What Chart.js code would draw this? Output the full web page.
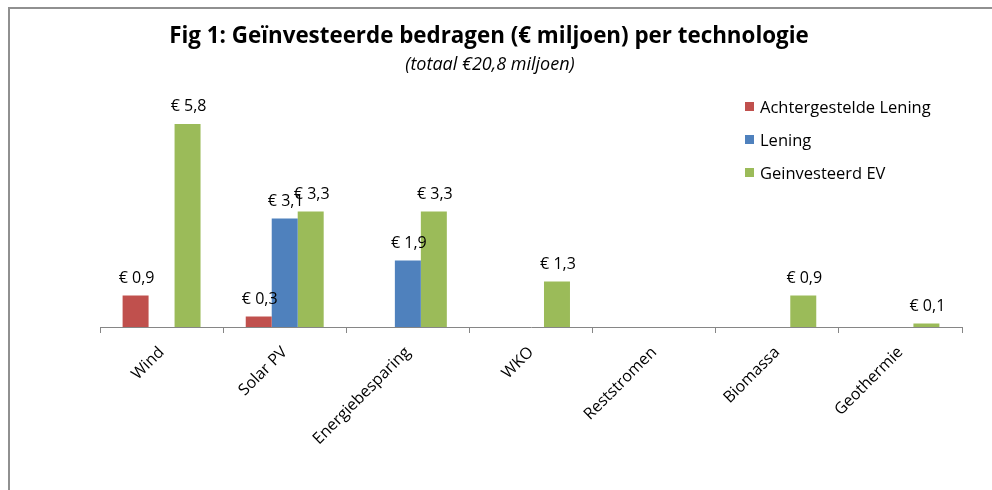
<!DOCTYPE html>
<html>
<head>
<meta charset="utf-8">
<script src="https://cdn.jsdelivr.net/npm/chart.js@4/dist/chart.umd.min.js"></script>
<style>
  html, body { margin: 0; padding: 0; background: #fff; overflow: hidden; }
  #frame { position: absolute; left: 8px; top: 7px; width: 1100px; height: 600px;
           border-left: 2px solid #909090; border-top: 2px solid #909090; }
  #wrap { position: absolute; left: 0; top: 0; width: 992px; height: 490px; }
</style>
</head>
<body>
<div id="frame"></div>
<div id="wrap"><canvas id="c" width="992" height="490"></canvas></div>
<script>
const categories = ['Wind', 'Solar PV', 'Energiebesparing', 'WKO', 'Reststromen', 'Biomassa', 'Geothermie'];
const seriesNames = ['Achtergestelde Lening', 'Lening', 'Geinvesteerd EV'];
const achtergesteldeLening = [0.9, 0.3, null, null, null, null, null];
const lening = [null, 3.1, 1.9, null, null, null, null];
const geinvesteerdEV = [5.8, 3.3, 3.3, 1.3, null, 0.9, 0.1];
const titleText = 'Fig 1: Geïnvesteerde bedragen (€ miljoen) per technologie';
const subtitleText = '(totaal €20,8 miljoen)';

const colors = ['#C0504D', '#4F81BD', '#9BBB59'];
const FONT = '"Open Sans", Lato, sans-serif';

function fitSize(ctx, text, style, targetWidth) {
  ctx.font = style + ' 20px ' + FONT;
  const w = ctx.measureText(text).width;
  return 20 * targetWidth / w;
}

const titlePlugin = {
  id: 'titles',
  afterDraw(chart) {
    const ctx = chart.ctx;
    ctx.save();
    ctx.fillStyle = '#000';
    ctx.textAlign = 'center';
    ctx.textBaseline = 'alphabetic';
    const ts = fitSize(ctx, titleText, 'bold', 640);
    ctx.font = 'bold ' + ts + 'px ' + FONT;
    ctx.fillText(titleText, 489, 43);
    ctx.font = 'italic 18px ' + FONT;
    ctx.fillText(subtitleText, 490, 70);
    ctx.restore();
  }
};

const legendPlugin = {
  id: 'customLegend',
  afterDraw(chart) {
    const ctx = chart.ctx;
    ctx.save();
    ctx.font = '16.5px ' + FONT;
    ctx.textBaseline = 'alphabetic';
    ctx.textAlign = 'left';
    chart.data.datasets.forEach((ds, i) => {
      const y = 106.5 + i * 33;
      ctx.fillStyle = ds.backgroundColor;
      ctx.fillRect(745, y - 4.5, 9, 9);
      ctx.fillStyle = '#000';
      ctx.fillText(ds.label, 760, y + 6);
    });
    ctx.restore();
  }
};

const dataLabelPlugin = {
  id: 'dataLabels',
  afterDatasetsDraw(chart) {
    const ctx = chart.ctx;
    ctx.save();
    ctx.font = '16px ' + FONT;
    ctx.fillStyle = '#000';
    ctx.textAlign = 'center';
    ctx.textBaseline = 'alphabetic';
    chart.data.datasets.forEach((ds, di) => {
      const meta = chart.getDatasetMeta(di);
      meta.data.forEach((el, idx) => {
        const v = ds.data[idx];
        if (v === null || v === undefined) return;
        ctx.fillText('€ ' + v.toFixed(1).replace('.', ','), el.x + 1, el.y - 13);
      });
    });
    ctx.restore();
  }
};

new Chart(document.getElementById('c'), {
  type: 'bar',
  data: {
    labels: categories,
    datasets: [
      { label: seriesNames[0], data: achtergesteldeLening, backgroundColor: colors[0] },
      { label: seriesNames[1], data: lening, backgroundColor: colors[1] },
      { label: seriesNames[2], data: geinvesteerdEV, backgroundColor: colors[2] }
    ]
  },
  options: {
    responsive: false,
    animation: false,
    devicePixelRatio: 1,
    layout: { padding: { left: 100, right: 30, top: 82, bottom: 0 } },
    datasets: { bar: { categoryPercentage: 0.633, barPercentage: 1.0, borderWidth: 0 } },
    plugins: { legend: { display: false }, title: { display: false }, tooltip: { enabled: false } },
    scales: {
      y: { display: false, min: 0, max: 7 },
      x: {
        offset: true,
        afterFit(scale) { scale.height = 163; },
        border: { display: true, color: '#868686', width: 1 },
        grid: { display: true, drawOnChartArea: false, drawTicks: true, tickLength: 6, color: '#868686', offset: true },
        ticks: { color: '#000', font: { family: FONT, size: 16 }, minRotation: 45, maxRotation: 45, padding: 10, autoSkip: false }
      }
    }
  },
  plugins: [titlePlugin, legendPlugin, dataLabelPlugin]
});
</script>
</body>
</html>
